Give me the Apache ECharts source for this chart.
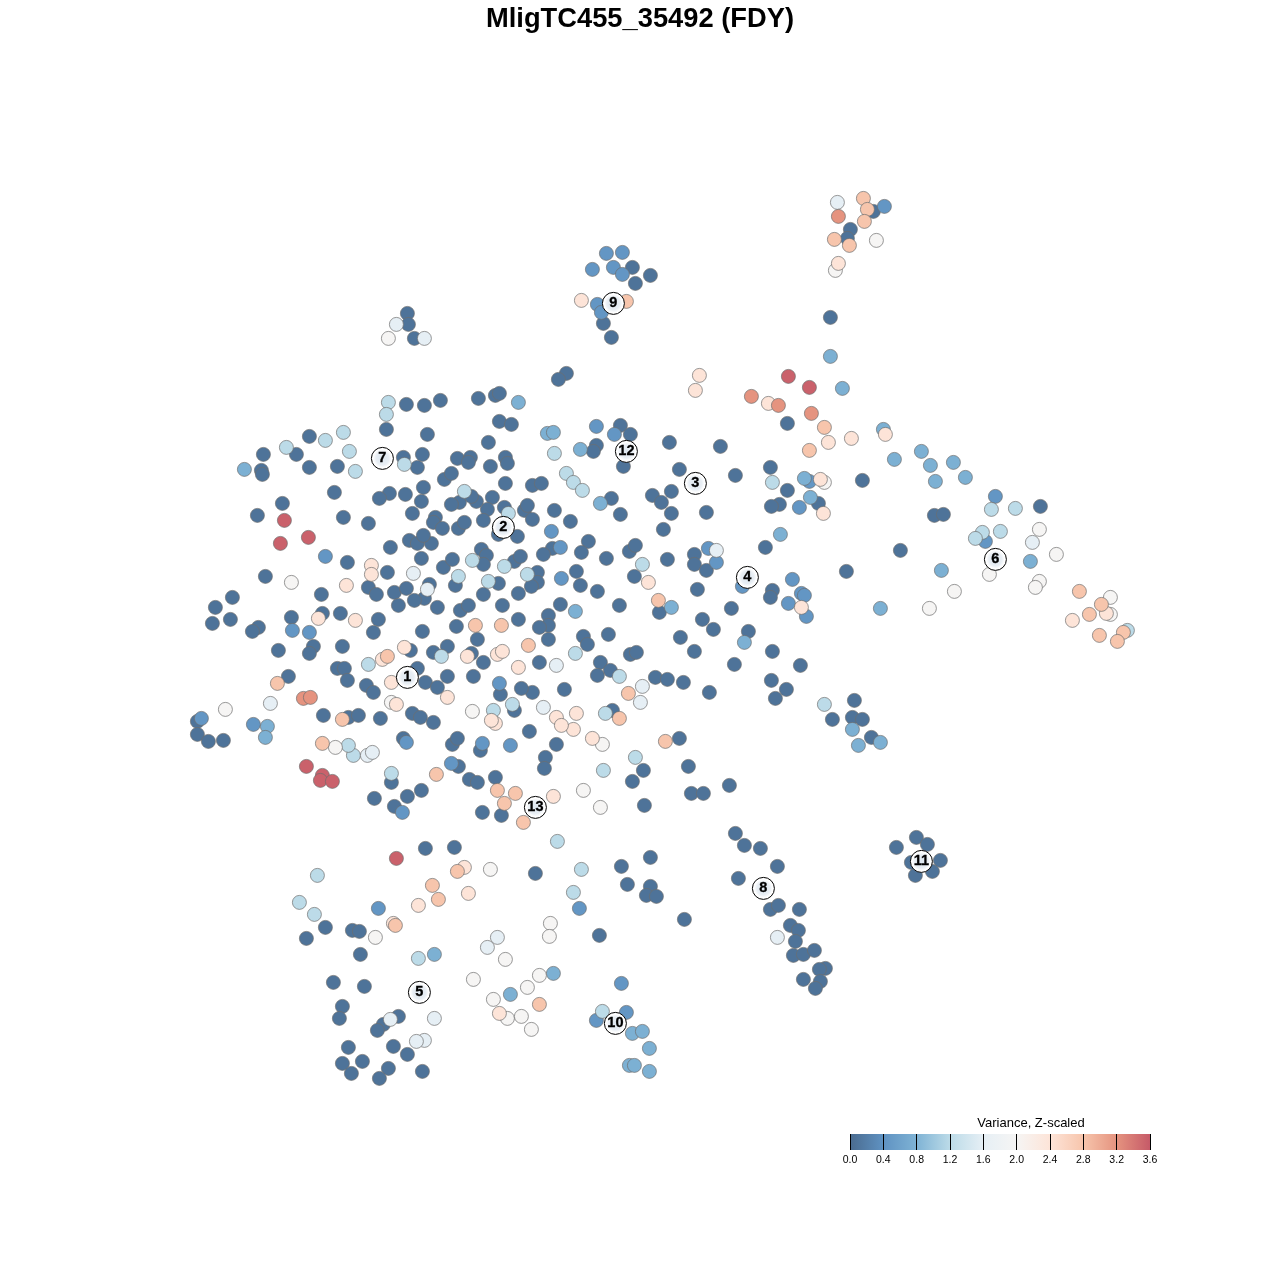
<!DOCTYPE html>
<html><head><meta charset="utf-8">
<style>html,body{margin:0;padding:0;background:#fff}#c{width:1280px;height:1280px}</style>
<script src="https://cdn.jsdelivr.net/npm/echarts@6/dist/echarts.min.js"></script>
</head><body><div id="c"></div>
<script>
const chartTitle = "MligTC455_35492 (FDY)";
const legendTitle = "Variance, Z-scaled";
const rampColors = ["#4a6b8f","#5f92c2","#7fb3d5","#bcdbe8","#e6eff5","#f6f5f4","#fde4d8","#f7c5ac","#e5937f","#c65a68"];
const level0 = [[873,211],[850,229],[847,238],[830,317],[632,267],[650,275],[635,283],[603,323],[611,337],[407,313],[408,324],[414,338],[566,373],[558,379],[787,423],[862,480],[735,475],[720,446],[669,442],[679,469],[770,467],[787,490],[779,504],[771,506],[818,503],[765,547],[900,550],[846,571],[1040,506],[934,515],[943,514],[772,590],[770,597],[748,631],[734,664],[772,651],[800,665],[771,680],[786,689],[775,698],[709,692],[854,700],[832,719],[852,717],[862,719],[871,737],[916,837],[927,844],[896,847],[911,862],[940,860],[915,875],[932,871],[735,833],[744,845],[760,848],[777,866],[738,878],[770,909],[778,905],[799,909],[790,925],[798,930],[795,941],[793,955],[803,954],[814,950],[825,968],[819,969],[803,979],[820,981],[815,988],[684,919],[650,857],[621,866],[627,884],[650,886],[646,895],[656,896],[599,935],[535,873],[425,848],[454,847],[325,927],[306,938],[352,930],[359,931],[360,954],[333,982],[364,986],[342,1006],[339,1018],[398,1016],[383,1024],[377,1030],[393,1046],[348,1047],[407,1054],[362,1061],[342,1063],[351,1073],[388,1068],[379,1078],[422,1071],[406,404],[424,405],[440,400],[386,429],[478,398],[495,395],[499,393],[499,421],[511,424],[488,442],[427,434],[309,436],[263,454],[296,454],[261,470],[262,474],[309,467],[337,466],[403,457],[417,467],[422,454],[457,458],[470,457],[468,462],[505,457],[490,466],[507,463],[444,479],[451,473],[505,483],[532,485],[541,483],[596,445],[593,451],[620,425],[630,434],[623,466],[611,498],[620,514],[652,495],[661,502],[671,491],[671,513],[706,512],[663,529],[667,559],[694,554],[694,564],[706,570],[731,608],[697,589],[702,619],[713,629],[680,637],[694,651],[634,576],[629,551],[635,545],[659,612],[619,605],[606,558],[597,591],[588,541],[581,552],[580,585],[576,571],[560,604],[552,548],[543,554],[570,521],[554,510],[524,510],[532,519],[504,507],[527,505],[492,497],[487,509],[476,501],[459,502],[471,496],[451,504],[423,487],[421,501],[405,494],[389,493],[379,498],[334,492],[282,503],[257,515],[343,517],[368,523],[412,513],[435,517],[433,522],[442,528],[458,528],[464,522],[483,520],[498,534],[517,536],[347,562],[390,547],[409,540],[417,543],[431,543],[423,535],[421,558],[387,572],[443,567],[452,559],[481,549],[486,555],[483,564],[514,561],[520,556],[537,572],[537,582],[531,586],[265,576],[368,587],[376,594],[394,592],[406,588],[429,584],[424,598],[455,585],[498,583],[483,594],[518,593],[398,605],[414,600],[437,607],[460,610],[468,605],[502,605],[321,594],[232,597],[215,607],[212,623],[230,619],[258,627],[252,631],[291,617],[322,613],[340,613],[378,619],[373,632],[278,650],[313,646],[309,653],[342,646],[422,631],[456,626],[518,619],[548,615],[548,625],[539,627],[548,639],[477,639],[447,646],[410,650],[433,652],[471,653],[337,668],[344,668],[288,676],[347,680],[417,668],[483,662],[539,662],[583,636],[587,644],[608,634],[600,662],[610,670],[597,675],[630,654],[636,652],[655,677],[667,679],[683,682],[612,710],[564,689],[532,692],[521,688],[500,694],[473,676],[514,710],[447,676],[425,682],[437,687],[366,685],[373,692],[197,721],[197,734],[208,741],[223,740],[323,715],[348,717],[358,715],[380,718],[412,713],[420,717],[433,722],[403,738],[452,744],[457,738],[480,750],[529,731],[545,757],[544,768],[556,744],[679,738],[643,770],[632,781],[644,805],[688,766],[729,785],[691,793],[703,793],[391,782],[458,766],[469,779],[477,782],[495,777],[374,798],[407,796],[421,790],[394,806],[482,812],[501,815]];
const level1 = [[884,206],[606,253],[622,252],[592,269],[613,267],[622,274],[597,304],[601,312],[809,481],[799,507],[995,496],[985,541],[792,579],[801,593],[804,595],[788,603],[806,616],[579,908],[621,983],[626,1012],[596,1020],[378,908],[596,426],[614,434],[716,562],[742,586],[561,578],[560,547],[708,548],[325,556],[292,630],[309,632],[201,718],[253,724],[482,743],[402,812],[451,763],[551,531],[499,683],[510,745],[406,742]];
const level2 = [[518,402],[575,611],[830,356],[842,388],[883,429],[894,459],[921,451],[930,465],[953,462],[965,477],[935,481],[804,478],[810,497],[780,534],[1030,561],[941,570],[880,608],[744,642],[852,729],[880,742],[858,745],[553,973],[632,1033],[642,1031],[649,1048],[629,1065],[634,1065],[649,1071],[434,954],[510,994],[547,433],[553,432],[580,449],[600,503],[671,607],[244,469],[267,726],[265,737]];
const level3 = [[388,402],[464,491],[472,560],[575,653],[512,704],[493,710],[605,713],[772,482],[1015,508],[991,509],[982,532],[975,538],[1127,630],[824,704],[573,892],[581,869],[557,841],[602,1011],[317,875],[299,902],[314,914],[418,958],[386,414],[343,432],[349,451],[286,447],[355,471],[404,464],[554,453],[566,473],[573,482],[582,490],[642,564],[508,513],[504,566],[458,576],[488,581],[527,574],[368,664],[441,656],[619,676],[603,770],[635,757],[353,755],[348,745],[391,773],[325,440],[1000,531]];
const level4 = [[424,338],[396,324],[1032,542],[777,937],[497,937],[487,947],[434,1018],[424,1040],[416,1041],[390,1019],[716,550],[413,573],[427,589],[642,686],[640,702],[270,703],[367,755],[372,752],[837,202],[556,665],[543,707]];
const level5 = [[876,240],[835,270],[388,338],[824,482],[1039,529],[1056,554],[989,574],[1039,581],[1035,587],[954,591],[929,608],[1110,597],[1110,614],[550,923],[549,936],[505,959],[473,979],[539,975],[527,987],[493,999],[507,1018],[521,1016],[531,1029],[490,869],[375,937],[291,582],[225,709],[391,702],[472,711],[335,747],[583,790],[600,807],[602,744]];
const level6 = [[838,263],[581,300],[699,375],[695,390],[768,403],[828,442],[851,438],[885,434],[820,479],[823,513],[801,607],[1072,620],[499,1013],[464,867],[468,893],[418,905],[393,923],[371,565],[318,618],[355,620],[648,582],[382,659],[467,656],[497,654],[502,651],[518,667],[391,682],[447,697],[396,704],[495,723],[556,717],[592,738],[553,796],[346,585],[371,574],[404,647],[1106,613],[576,713],[573,729],[561,725],[491,720]];
const level7 = [[863,198],[867,209],[864,221],[834,239],[849,245],[626,301],[809,450],[1079,591],[1101,604],[1089,614],[1123,632],[1099,635],[1117,641],[539,1004],[457,871],[432,885],[438,899],[395,925],[658,600],[475,625],[501,625],[387,656],[528,645],[277,683],[619,718],[628,693],[824,427],[665,741],[342,719],[322,743],[436,774],[497,790],[515,793],[504,803],[523,822]];
const level8 = [[838,216],[751,396],[778,405],[811,413],[303,698],[310,697]];
const level9 = [[788,376],[809,387],[396,858],[284,520],[308,537],[280,543],[306,766],[322,775],[320,780],[332,781]];
const levelValues = [0.08,0.45,0.76,1.2,1.6,2.0,2.4,2.8,3.2,3.55];
const clusterNames = ["1","2","3","4","5","6","7","8","9","10","11","12","13"];
const clusterX = [407,503,695,747,419,995,382,763,613,615,921,626,535];
const clusterY = [677,527,483,577,992,559,458,888,303,1023,861,451,807];

const levels = [level0,level1,level2,level3,level4,level5,level6,level7,level8,level9];
const points = [];
levels.forEach((l,i)=>l.forEach(p=>points.push([p[0],p[1],levelValues[i]])));

const chart = echarts.init(document.getElementById('c'),null,{renderer:'canvas'});
const stops = rampColors.map((c,i)=>({offset:i/(rampColors.length-1),color:c}));
chart.setOption({
  animation:false,
  backgroundColor:'#fff',
  title:[
    {text:chartTitle,left:635,top:1,textAlign:'center',textStyle:{fontFamily:'Liberation Sans',fontSize:27.3,fontWeight:'bold',color:'#000'}},
    {text:legendTitle,left:1026,top:1112,textAlign:'center',textStyle:{fontFamily:'Liberation Sans',fontSize:13,fontWeight:'normal',color:'#000'}}
  ],
  grid:[
    {left:0,top:0,width:1280,height:1280,show:false},
    {left:850,top:1134,width:300,height:16,show:true,borderWidth:0,
     backgroundColor:new echarts.graphic.LinearGradient(0,0,1,0,stops)}
  ],
  xAxis:[
    {gridIndex:0,type:'value',min:-0.4,max:1279.6,show:false},
    {gridIndex:1,type:'value',min:0,max:3.6,interval:0.4,axisLine:{show:false},axisTick:{show:false},
     splitLine:{show:true,lineStyle:{color:'#000',width:1}},
     axisLabel:{fontFamily:'Liberation Sans',fontSize:10.5,color:'#000',margin:5,showMinLabel:true,showMaxLabel:true,hideOverlap:false,
       formatter:v=>v.toFixed(1)}}
  ],
  yAxis:[
    {gridIndex:0,type:'value',min:-0.4,max:1279.6,inverse:true,show:false},
    {gridIndex:1,type:'value',min:0,max:1,show:false}
  ],
  visualMap:{show:false,type:'continuous',seriesIndex:0,dimension:2,min:0,max:3.6,inRange:{color:rampColors}},
  series:[
    {type:'scatter',xAxisIndex:0,yAxisIndex:0,symbol:'circle',symbolSize:14,data:points,
     itemStyle:{borderColor:'rgba(110,110,110,0.7)',borderWidth:1,opacity:1},silent:true,z:2},
    {type:'scatter',xAxisIndex:0,yAxisIndex:0,symbol:'circle',symbolSize:22,z:5,silent:true,
     data:clusterNames.map((n,i)=>({value:[clusterX[i],clusterY[i]],name:n})),
     itemStyle:{color:{type:'radial',x:0.5,y:0.5,r:0.5,colorStops:[{offset:0,color:'#dde7f0'},{offset:0.55,color:'#e8eef4'},{offset:0.8,color:'#ffffff'},{offset:1,color:'#ffffff'}]},borderColor:'#000',borderWidth:1,opacity:1},
     label:{show:true,position:'inside',formatter:p=>p.name,fontFamily:'Liberation Sans',fontWeight:'bold',fontSize:14.5,color:'#000',textBorderColor:'#000',textBorderWidth:0.3}}
  ]
});
</script></body></html>
